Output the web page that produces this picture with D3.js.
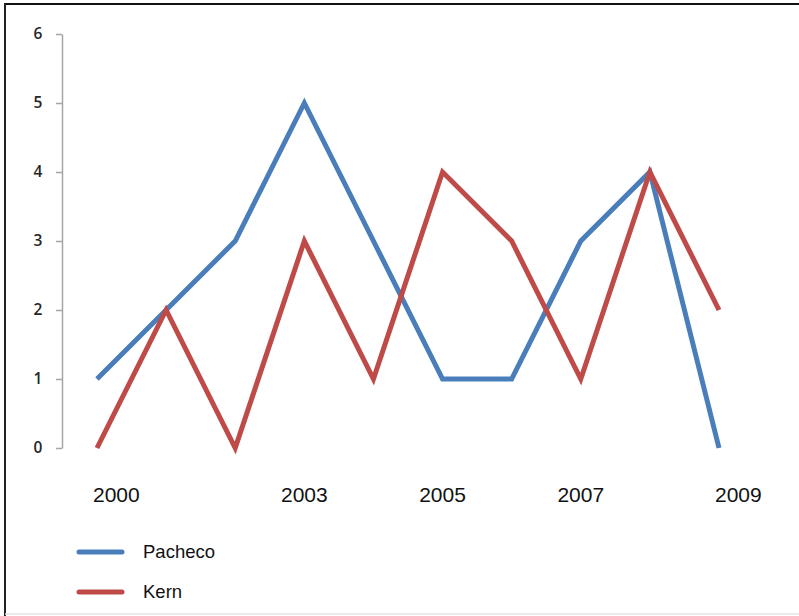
<!DOCTYPE html>
<html>
<head>
<meta charset="utf-8">
<script src="https://cdn.jsdelivr.net/npm/d3@7/dist/d3.min.js"></script>
<style>
  html, body { margin: 0; padding: 0; background: #fff; }
  svg { display: block; }
</style>
</head>
<body>
<svg id="chart" width="799" height="616"></svg>
<script>
// Yearly counts for the two series
const years = [2000, 2001, 2002, 2003, 2004, 2005, 2006, 2007, 2008, 2009];
const pacheco = [1, 2, 3, 5, 3, 1, 1, 3, 4, 0];
const kern = [0, 2, 0, 3, 1, 4, 3, 1, 4, 2];
const yearLabels = [2000, 2003, 2005, 2007, 2009];
const yTicks = [0, 1, 2, 3, 4, 5, 6];
const seriesNames = ["Pacheco", "Kern"];
const seriesColors = ["#4a7ebb", "#be4b48"];

const svg = d3.select("#chart");

// Frame around the chart
svg.append("line").attr("x1", 5).attr("x2", 799).attr("y1", 4).attr("y2", 4)
  .attr("stroke", "#111").attr("stroke-width", 2);
svg.append("line").attr("x1", 5).attr("x2", 5).attr("y1", 3).attr("y2", 616)
  .attr("stroke", "#222").attr("stroke-width", 2);
svg.append("line").attr("x1", 5).attr("x2", 799).attr("y1", 614).attr("y2", 614)
  .attr("stroke", "#e4e4e4").attr("stroke-width", 1.5);

const x = d3.scaleLinear().domain([2000, 2009]).range([97, 719]);
const y = d3.scaleLinear().domain([0, 6]).range([448, 34]);

// Vertical axis
const yAxis = svg.append("g")
  .attr("transform", "translate(62,0)")
  .call(d3.axisLeft(y).tickValues(yTicks).tickFormat(d3.format("d"))
    .tickSize(6).tickPadding(12).tickSizeOuter(0));
yAxis.select(".domain").attr("stroke", "#a6a6a6").attr("stroke-width", 1.5);
yAxis.selectAll(".tick line").attr("stroke", "#a6a6a6").attr("stroke-width", 1.5);
yAxis.selectAll(".tick text")
  .attr("font-family", "'Open Sans', sans-serif")
  .attr("font-size", 15.5)
  .attr("font-weight", 600)
  .attr("fill", "#262626")
  .attr("text-anchor", "middle")
  .attr("dx", "-0.4em");

// Year labels along the bottom; end labels sit to the right of their point
svg.append("g").selectAll("text")
  .data(yearLabels)
  .join("text")
  .attr("x", d => (d === years[0] || d === years[years.length - 1]) ? x(d) - 4 : x(d))
  .attr("y", 502)
  .attr("text-anchor", d => (d === years[0] || d === years[years.length - 1]) ? "start" : "middle")
  .attr("font-family", "'Liberation Sans', Arial, sans-serif")
  .attr("font-size", 21)
  .attr("fill", "#111")
  .text(d => d);

// Series lines
const line = d3.line()
  .x((d, i) => x(years[i]))
  .y(d => y(d));

[pacheco, kern].forEach((vals, k) => {
  svg.append("path")
    .datum(vals)
    .attr("d", line)
    .attr("fill", "none")
    .attr("stroke", seriesColors[k])
    .attr("stroke-width", 5)
    .attr("stroke-linejoin", "miter")
    .attr("stroke-miterlimit", 10)
    .attr("stroke-linecap", "butt");
});

// Legend
const legend = svg.append("g");
seriesNames.forEach((name, k) => {
  const ly = 552 + k * 40;
  legend.append("line")
    .attr("x1", 79).attr("x2", 122).attr("y1", ly).attr("y2", ly)
    .attr("stroke", seriesColors[k]).attr("stroke-width", 5)
    .attr("stroke-linecap", "round");
  legend.append("text")
    .attr("x", 143).attr("y", ly + 6)
    .attr("font-family", "'Liberation Sans', Arial, sans-serif")
    .attr("font-size", 18.5)
    .attr("fill", "#111")
    .text(name);
});
</script>
</body>
</html>
